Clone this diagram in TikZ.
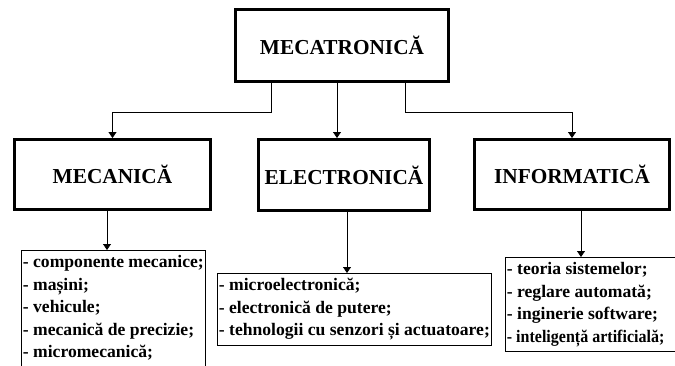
\documentclass[tikz,border=0pt]{standalone}
\usepackage{fontspec}
\setmainfont{Liberation Serif}
\usetikzlibrary{arrows.meta}
\tikzset{
    mainbox/.style={draw, line width=3pt, inner sep=0pt,
        font=\bfseries\fontsize{21.3}{25}\selectfont},
    listbox/.style={draw, line width=0.8pt, align=left, anchor=north west,
        inner xsep=1.5pt, inner ysep=5pt,
        font=\bfseries\fontsize{17.6}{22.5}\selectfont},
    conn/.style={line width=0.8pt, -{Triangle[width=8pt,length=6pt]}},
}

\begin{document}
\begin{tikzpicture}[x=1pt, y=-1pt]
    \clip (0,0) rectangle (675,365);
    \node[mainbox, minimum width=213pt, minimum height=72pt] (mecatronica) at (342,45.5) {MECATRONICĂ};
    \node[mainbox, minimum width=196pt, minimum height=70pt] (mecanica) at (112.5,174.5) {MECANICĂ};
    \node[mainbox, minimum width=171pt, minimum height=71pt] (electronica) at (344,175) {ELECTRONICĂ};
    \node[mainbox, minimum width=195pt, minimum height=70pt] (informatica) at (572,174.5) {INFORMATICĂ};
    % listele de sub fiecare domeniu
    \node[listbox] (meclist) at (21,250) {- componente mecanice;\\- mașini;\\- vehicule;\\- mecanică de precizie;\\- micromecanică;\\};
    \node[listbox] (elelist) at (217,273) {- microelectronică;\\- electronică de putere;\\- tehnologii cu senzori și actuatoare;};
    \node[listbox, text width=176pt, align=flush left] (inflist) at (505,257) {- teoria sistemelor;\\- reglare automată;\\- inginerie software;\\\scalebox{0.91}[1]{- inteligență artificială;}};
    % legaturi
    \draw[conn] ([xshift=-71pt]mecatronica.south) -- ++(0,29.5) -| (mecanica.north);
    \draw[conn] ([xshift=-5pt]mecatronica.south) -- ([xshift=-5pt]mecatronica.south |- electronica.north);
    \draw[conn] ([xshift=63pt]mecatronica.south) -- ++(0,29.5) -| (informatica.north);
    \draw[conn] ([xshift=-5.5pt]mecanica.south) -- ([xshift=-5.5pt]mecanica.south |- meclist.north);
    \draw[conn] ([xshift=3pt]electronica.south) -- ([xshift=3pt]electronica.south |- elelist.north);
    \draw[conn] ([xshift=9pt]informatica.south) -- ([xshift=9pt]informatica.south |- inflist.north);
\end{tikzpicture}
\end{document}
